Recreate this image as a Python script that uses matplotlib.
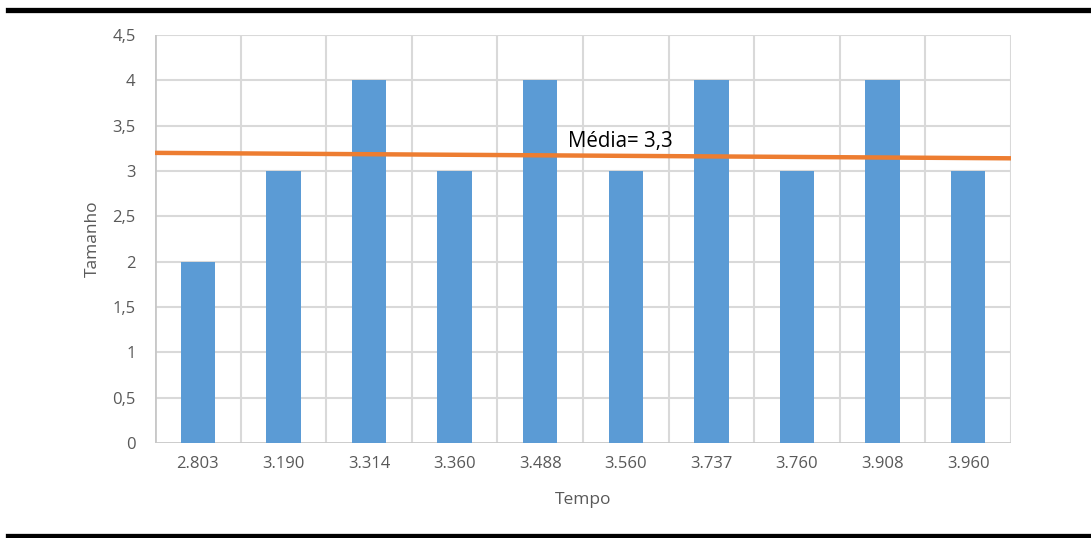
import matplotlib
matplotlib.use("Agg")
import matplotlib.pyplot as plt
from matplotlib.lines import Line2D
import numpy as np

# Data
tempo = ["2.803", "3.190", "3.314", "3.360", "3.488",
         "3.560", "3.737", "3.760", "3.908", "3.960"]
tamanho = [2, 3, 4, 3, 4, 3, 4, 3, 4, 3]
trend_ends = [3.20, 3.14]          # reference line at left / right edge
media_label = "Média= 3,3"
y_ticks = [0, 0.5, 1, 1.5, 2, 2.5, 3, 3.5, 4, 4.5]
y_ticklabels = ["0", "0,5", "1", "1,5", "2", "2,5", "3", "3,5", "4", "4,5"]

plt.rcParams["font.family"] = ["Open Sans", "DejaVu Sans"]

W, H = 1091, 538
fig = plt.figure(figsize=(W / 100, H / 100), dpi=100)
ax = fig.add_axes([155 / W, 1 - 443 / H, (1011 - 155) / W, (443 - 35) / H])

x = np.arange(len(tempo))
grid_c = "#D9D9D9"
ax.bar(x, tamanho, width=0.4, color="#5B9BD5", zorder=3)

ax.set_xlim(-0.5, len(tempo) - 0.5)
ax.set_ylim(0, 4.5)

# grid: horizontal at ticks, vertical at category boundaries
for yv in y_ticks[1:]:
    ax.axhline(yv, color=grid_c, lw=1.5, zorder=1)
for b in np.arange(0.5, len(tempo), 1.0):
    ax.axvline(b, color=grid_c, lw=1.5, zorder=1)
# axis lines
ax.axhline(0, color="#C8C8C8", lw=2, zorder=2)
ax.axvline(-0.5, color="#C8C8C8", lw=2, zorder=2)

ax.plot([-0.5, len(tempo) - 0.5], trend_ends, color="#ED7D31", lw=3.2,
        zorder=4, solid_capstyle="butt")
ax.text(4.32, 3.215, media_label, fontsize=14.8, color="black",
        ha="left", va="bottom", zorder=5)

for s in ax.spines.values():
    s.set_visible(False)
ax.set_xticks(x)
ax.set_xticklabels(tempo)
ax.set_yticks(y_ticks)
ax.set_yticklabels(y_ticklabels)
ax.tick_params(length=0, labelsize=12, colors="#595959", pad=9)
ax.tick_params(axis="y", pad=14)
ax.set_xlabel("Tempo", fontsize=12.5, color="#595959", labelpad=15)
ax.set_ylabel("Tamanho", fontsize=12.5, color="#595959", labelpad=8)

# black rules above and below the chart
fig.add_artist(Line2D([8 / W, 1], [1 - 9.5 / H] * 2, color="black", lw=3.8,
                      transform=fig.transFigure))
fig.add_artist(Line2D([8 / W, 1], [1 - 536 / H] * 2, color="black", lw=3.8,
                      transform=fig.transFigure))

fig.savefig("out.png", dpi=100)
